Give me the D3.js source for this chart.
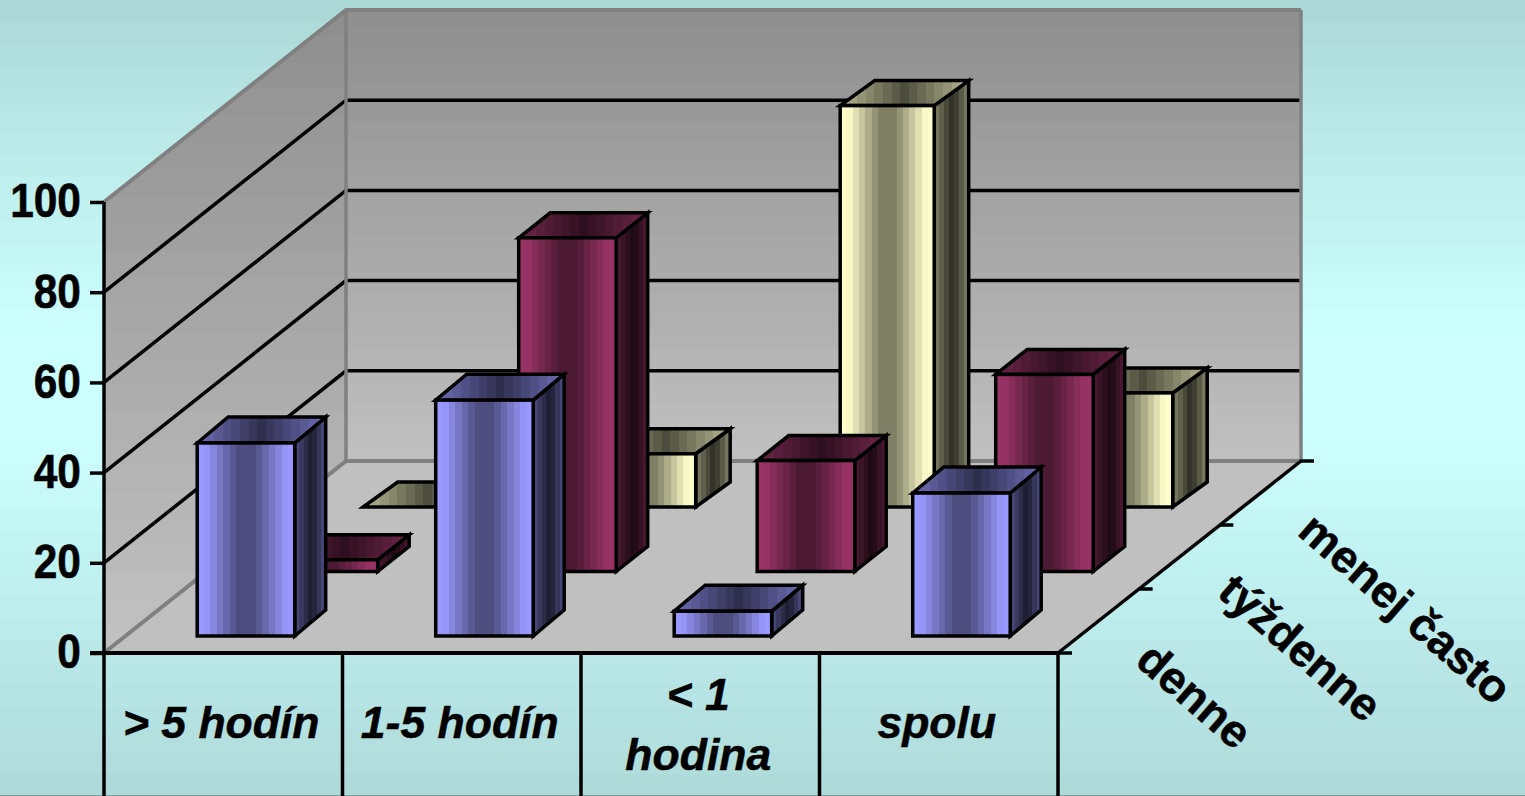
<!DOCTYPE html>
<html><head><meta charset="utf-8">
<script src="https://cdn.jsdelivr.net/npm/d3@7/dist/d3.min.js"></script>
<style>html,body{margin:0;padding:0;overflow:hidden;background:#ccffff}svg{display:block}
text{font-family:"Liberation Sans",Arial,sans-serif;font-weight:bold;fill:#000;stroke:#000;stroke-width:.5px}</style>
</head><body><svg id="c" width="1525" height="796"></svg>
<script>
const categories = ["> 5 hodín", "1-5 hodín", "< 1 hodina", "spolu"];
const series = ["denne", "týždenne", "menej často"];
const denne = [42.8, 52.3, 5.5, 31.7];
const tyzdenne = [2.6, 74, 24.6, 43.7];
const menejCasto = [0, 11.8, 89, 25.3];
const yTicks = [0, 20, 40, 60, 80, 100];

const svg = d3.select("#c");
const defs = svg.append("defs");
const W = 1525, H = 796;
const x0 = 104, x1 = 1058, y0 = 653, y100 = 202;
const depthX = 242, depthY = 192;

const y = d3.scaleLinear().domain([0, 100]).range([y0, y100]);
const xBand = d3.scaleBand().domain(categories).range([x0, x1]);
const rowX = d3.scalePoint().domain(series).range([0, 166]);
const rowBase = d3.scalePoint().domain(series).range([636, 507]);
const rowWidth = d3.scaleOrdinal().domain(series).range([97.5, 97.5, 94]);
const rowSideX = d3.scaleOrdinal().domain(series).range([31, 31.5, 34.5]);
const rowSideY = d3.scaleOrdinal().domain(series).range([26, 25, 25]);
const barInset = 93.2;

function stepped(id, stops, n, attrs) {
  const g = defs.append("linearGradient").attr("id", id)
    .attr("x1", 0).attr("y1", 0).attr("x2", 1).attr("y2", 0);
  if (attrs && attrs.user) g.attr("gradientUnits", "userSpaceOnUse").attr("x1", 0).attr("y1", attrs.user[0]).attr("x2", 0).attr("y2", attrs.user[1]);
  const col = d3.scaleLinear().domain(stops.map(s => s[0])).range(stops.map(s => s[1])).interpolate(d3.interpolateRgb);
  d3.range(n).forEach(i => {
    const c = col((i + 0.5) / n);
    g.append("stop").attr("offset", i / n).attr("stop-color", c);
    g.append("stop").attr("offset", (i + 1) / n).attr("stop-color", c);
  });
}
const hi = {blue: "#9999ff", wine: "#993366", cream: "#ffffcc"};
const shade = (c, k) => { const r = d3.rgb(c); return d3.rgb(r.r * k, r.g * k, r.b * k).formatHex(); };
Object.entries(hi).forEach(([k, c]) => {
  stepped("front-" + k, [[0, c], [0.08, c], [0.42, shade(c, .5)], [0.58, shade(c, .5)], [0.92, c], [1, c]], 15);
  stepped("top-" + k, [[0, shade(c, .72)], [0.5, shade(c, .3)], [1, shade(c, .72)]], 15);
  stepped("side-" + k, [[0, shade(c, .5)], [0.55, shade(c, .17)], [1, shade(c, .52)]], 7);
});
stepped("bg", [[0, "#abd8d6"], [0.13, "#b7e6e4"], [0.42, "#ccffff"], [0.55, "#ccffff"], [1, "#aed9d9"]], 36, {user: [0, H]});
stepped("wall", [[0, "#8e8e8e"], [1, "#c0c0c0"]], 24, {user: [9, 461]});
stepped("lwall", [[0, "#8e8e8e"], [1, "#c2c2c2"]], 24, {user: [9, 653]});

svg.append("rect").attr("width", W).attr("height", H).attr("fill", "url(#bg)");
svg.append("line").attr("x1", 0).attr("x2", W).attr("y1", 795.5).attr("y2", 795.5).attr("stroke", "#7f9f9f");

const poly = pts => pts.map(p => p.join(",")).join(" ");
const backY = v => y(v) - depthY;
svg.append("polygon").attr("points", poly([[x0 + depthX, backY(0)], [x1 + depthX + 1, backY(0)], [x1 + depthX + 1, backY(100)], [x0 + depthX, backY(100)]])).attr("fill", "url(#wall)");
svg.append("polygon").attr("points", poly([[x0, y0], [x0 + depthX, backY(0)], [x0 + depthX, backY(100)], [x0, y100]])).attr("fill", "url(#lwall)");
svg.append("polygon").attr("points", poly([[x0, y0], [x1, y0], [x1 + depthX + 1, backY(0)], [x0 + depthX, backY(0)]])).attr("fill", "#c0c0c0");
yTicks.forEach(t => {
  const edge = t === 0 || t === 100;
  svg.append("polyline").attr("fill", "none").attr("stroke", edge ? "#808080" : "#000").attr("stroke-width", edge ? 4 : 3.5)
    .attr("points", poly([[x0, y(t)], [x0 + depthX, backY(t)], [x1 + depthX + 1, backY(t)]]));
});
[x0 + depthX, x1 + depthX + 1].forEach(xv => {
  svg.append("line").attr("x1", xv).attr("x2", xv).attr("y1", backY(0)).attr("y2", backY(100)).attr("stroke", "#808080").attr("stroke-width", 3.5);
});

const rows = [[series[2], menejCasto, "cream"], [series[1], tyzdenne, "wine"], [series[0], denne, "blue"]];
rows.forEach(([s, vals, key]) => {
  categories.forEach((c, i) => {
    const l = xBand(c) + barInset + rowX(s), w = rowWidth(s), b = rowBase(s), h = y(0) - y(vals[i]), t = b - h;
    const sx = rowSideX(s), sy = rowSideY(s), r = l + w;
    const g = svg.append("g").attr("stroke", "#000").attr("stroke-width", 3.5).attr("stroke-linejoin", "miter");
    g.append("polygon").attr("points", poly([[r, t], [r + sx, t - sy], [r + sx, b - sy], [r, b]])).attr("fill", `url(#side-${key})`);
    g.append("polygon").attr("points", poly([[l, t], [l + sx, t - sy], [r + sx, t - sy], [r, t]])).attr("fill", `url(#top-${key})`);
    if (h > 0) g.append("rect").attr("x", l).attr("y", t).attr("width", w).attr("height", h).attr("fill", `url(#front-${key})`);
  });
});

const yAxis = svg.append("g").attr("transform", `translate(${x0},0)`).call(d3.axisLeft(y).tickValues(yTicks).tickSize(14).tickPadding(9));
yAxis.select(".domain").attr("stroke", "#000").attr("stroke-width", 3.5).attr("d", `M0,${y0}V${y100}`);
yAxis.selectAll("line").attr("stroke", "#000").attr("stroke-width", 3.5);
yAxis.selectAll("text").attr("font-size", 42.5).attr("font-family", null).attr("dy", "0.36em").attr("y", null)
  .attr("transform", "translate(0,-2) scale(1,1.11)");

svg.append("line").attr("x1", x0 - 14).attr("x2", x1).attr("y1", y0).attr("y2", y0).attr("stroke", "#000").attr("stroke-width", 4);
[...categories.map(c => xBand(c)), x1].forEach(xv => {
  svg.append("line").attr("x1", xv).attr("x2", xv).attr("y1", y0).attr("y2", H).attr("stroke", "#000").attr("stroke-width", 3.5);
});
const catLines = [["> 5 hodín"], ["1-5 hodín"], ["< 1", "hodina"], ["spolu"]];
catLines.forEach((ls, i) => {
  const cx = xBand(categories[i]) + xBand.bandwidth() / 2 - 2;
  ls.forEach((t, j) => {
    svg.append("text").attr("x", cx).attr("y", ls.length === 1 ? 738 : 710 + j * 60)
      .attr("text-anchor", "middle").attr("font-size", 44.5).attr("font-style", "italic").text(t);
  });
});

svg.append("line").attr("x1", x1).attr("y1", y0).attr("x2", x1 + depthX + 1).attr("y2", backY(0)).attr("stroke", "#000").attr("stroke-width", 3.5);
const depthScale = d3.scaleLinear().domain([0, 3]).range([0, 1]);
d3.range(4).forEach(k => {
  const f = depthScale(k), px = x1 + f * depthX, py = y0 - f * depthY;
  svg.append("line").attr("x1", px).attr("x2", px + 14).attr("y1", py).attr("y2", py).attr("stroke", "#000").attr("stroke-width", 3.5);
});
const labelX = d3.scaleOrdinal().domain(series).range([1195, 1301, 1406]);
const labelY = d3.scaleOrdinal().domain(series).range([695, 647, 608]);
series.forEach(s => {
  svg.append("text").attr("transform", `translate(${labelX(s)},${labelY(s)}) rotate(41)`).attr("text-anchor", "middle").attr("dy", "0.36em").attr("font-size", 45.5).text(s);
});
</script></body></html>
